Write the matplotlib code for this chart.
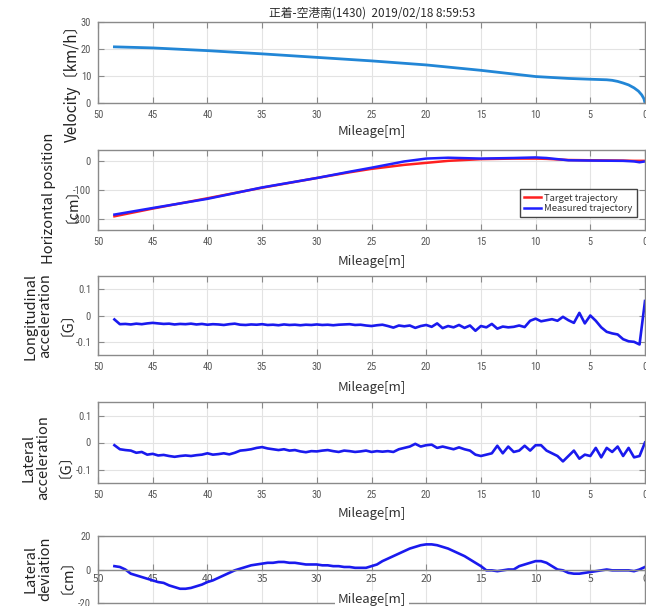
import numpy as np
import matplotlib
matplotlib.use("Agg")
import matplotlib.pyplot as plt
from matplotlib import font_manager

plt.rcParams['font.family'] = ['Noto Sans CJK JP', 'DejaVu Sans']
plt.rcParams['axes.unicode_minus'] = False

title = "正着-空港南(1430)  2019/02/18 8:59:53"

# mileage samples for the logged channels (m to stop position)
mileage = np.arange(48.5, -0.01, -0.5)

# velocity profile, sparse points read along the run
vel_x = [48.5, 45, 40, 35, 30, 25, 20, 15, 10, 7, 5, 3.5, 3, 2.5, 2, 1.5, 1, 0.6, 0.3, 0.1, 0]
vel = [20.8, 20.4, 19.4, 18.2, 16.9, 15.6, 14.1, 12.1, 9.8, 9.1, 8.8, 8.6, 8.4, 8.0, 7.4, 6.7, 5.6, 4.4, 3.0, 1.6, 0.0]

# horizontal position (cm)
pos_x = [48.5, 45, 40, 35, 30, 27, 25, 22, 20, 18, 15, 12, 10, 9, 8, 7, 5, 2, 1, 0.5, 0]
target = [-192, -165, -129, -92, -58, -38, -26, -12, -5, 2, 8, 10, 10, 9, 7, 5, 4, 3, 2, 2, 2]
measured = [-186, -163, -131, -91, -58, -36, -22, 0, 10, 13, 10, 12, 14, 12, 8, 4, 3, 2, 0, -3, 0]

# longitudinal acceleration (G)
long_acc = [
    -0.015, -0.033, -0.032, -0.034, -0.031, -0.033, -0.030, -0.028, -0.030, -0.032,
    -0.031, -0.034, -0.032, -0.033, -0.031, -0.034, -0.032, -0.035, -0.033, -0.034,
    -0.036, -0.033, -0.031, -0.035, -0.036, -0.034, -0.035, -0.033, -0.036, -0.035,
    -0.037, -0.034, -0.036, -0.035, -0.037, -0.035, -0.036, -0.034, -0.036, -0.035,
    -0.037, -0.035, -0.034, -0.033, -0.036, -0.035, -0.038, -0.040, -0.037, -0.035,
    -0.040, -0.046, -0.038, -0.041, -0.038, -0.047, -0.040, -0.036, -0.043, -0.030,
    -0.048, -0.040, -0.045, -0.036, -0.047, -0.038, -0.058, -0.040, -0.045, -0.032,
    -0.050, -0.042, -0.045, -0.043, -0.038, -0.044, -0.020, -0.012, -0.022, -0.018,
    -0.014, -0.020, -0.005, -0.018, -0.028, 0.010, -0.030, 0.000, -0.020, -0.045,
    -0.062, -0.068, -0.072, -0.090, -0.098, -0.100, -0.110, 0.055,
]

# lateral acceleration (G)
lat_acc = [
    -0.010, -0.025, -0.028, -0.030, -0.038, -0.035, -0.045, -0.042, -0.048, -0.046,
    -0.050, -0.053, -0.050, -0.048, -0.050, -0.047, -0.045, -0.040, -0.045, -0.043,
    -0.040, -0.044, -0.038, -0.030, -0.028, -0.025, -0.020, -0.017, -0.022, -0.025,
    -0.028, -0.025, -0.030, -0.028, -0.033, -0.036, -0.032, -0.033, -0.030, -0.028,
    -0.032, -0.035, -0.030, -0.032, -0.035, -0.033, -0.030, -0.035, -0.032, -0.034,
    -0.032, -0.035, -0.025, -0.020, -0.015, -0.005, -0.015, -0.010, -0.008, -0.020,
    -0.015, -0.020, -0.025, -0.018, -0.025, -0.030, -0.045, -0.050, -0.045, -0.040,
    -0.012, -0.040, -0.015, -0.035, -0.030, -0.012, -0.030, -0.010, -0.010, -0.030,
    -0.040, -0.050, -0.070, -0.050, -0.030, -0.060, -0.045, -0.050, -0.020, -0.055,
    -0.020, -0.035, -0.015, -0.050, -0.020, -0.055, -0.050, 0.000,
]

# lateral deviation (cm)
lat_dev = [
    2.0, 1.5, 0.0, -2.5, -3.5, -4.5, -5.5, -6.5, -7.5, -8.0,
    -9.5, -10.5, -11.5, -11.5, -11.0, -10.0, -9.0, -7.5, -6.5, -5.0,
    -3.5, -2.0, -0.5, 0.5, 1.5, 2.5, 3.0, 3.5, 4.0, 4.0,
    4.5, 4.5, 4.0, 4.0, 3.5, 3.0, 3.0, 3.0, 2.5, 2.5,
    2.0, 2.0, 1.5, 1.5, 1.0, 1.0, 1.0, 2.0, 3.0, 5.0,
    6.5, 8.0, 9.5, 11.0, 12.5, 13.5, 14.5, 15.0, 15.0, 14.5,
    13.5, 12.5, 11.0, 9.5, 8.0, 6.0, 4.0, 2.0, -0.5, -0.5,
    -1.0, -0.5, 0.0, 0.0, 2.0, 3.0, 4.0, 5.0, 5.0, 4.0,
    2.0, 0.0, -0.5, -2.0, -2.5, -2.5, -2.0, -1.5, -1.0, -0.5,
    0.0, -0.5, -0.5, -0.5, -0.5, -1.0, 0.0, 1.5,
]

W, H = 646, 606
fig = plt.figure(figsize=(W / 100, H / 100), dpi=100)

tick_font = 'DejaVu Sans'
for name in ['Liberation Sans Narrow', 'Roboto Condensed']:
    try:
        font_manager.findfont(name, fallback_to_default=False)
        tick_font = name
        break
    except Exception:
        pass

spine_c = '#8a8a8a'
grid_c = '#e3e3e3'
tick_c = '#555555'


def make_axes(top, bottom, ylim, yticks, yticklabels=None):
    ax = fig.add_axes([98 / W, 1 - bottom / H, 547 / W, (bottom - top) / H])
    ax.set_xlim(50, 0)
    ax.set_ylim(*ylim)
    ax.set_xticks(range(50, -1, -5))
    ax.set_yticks(yticks)
    if yticklabels:
        ax.set_yticklabels(yticklabels)
    ax.grid(True, color=grid_c, lw=0.8)
    ax.set_axisbelow(True)
    for s in ax.spines.values():
        s.set_color(spine_c)
        s.set_linewidth(1.0)
    ax.tick_params(direction='in', length=4, width=0.8, color=spine_c,
                   top=True, right=True, labelsize=7.5, labelcolor=tick_c, pad=5)
    for lab in ax.get_xticklabels() + ax.get_yticklabels():
        lab.set_family(tick_font)
    return ax


def mileage_label(y):
    fig.text(372 / W, 1 - y / H, "Mileage[m]", ha='center', va='center',
             fontsize=9.5, color='#333333')


# velocity
ax1 = make_axes(22, 103, (0, 30), [0, 10, 20, 30])
ax1.plot(vel_x, vel, color='#2286d6', lw=2.0)
fig.text(372 / W, 1 - 13 / H, title, ha='center', va='center', fontsize=8.5, color='#2a2a2a')
mileage_label(131)
fig.text(72 / W, 1 - 80 / H, "Velocity〔km/h〕", rotation=90, ha='center', va='center',
         fontsize=11, color='#222222')

# horizontal position
ax2 = make_axes(150, 230, (-240, 40), [-200, -100, 0])
ax2.plot(pos_x, target, color='#ff2020', lw=1.8, label='Target trajectory')
ax2.plot(pos_x, measured, color='#2020ff', lw=1.8, label='Measured trajectory')
leg = ax2.legend(loc='lower right', bbox_to_anchor=(0.985, 0.16), borderaxespad=0,
                 fontsize=6.8, fancybox=False, edgecolor='#444444', handlelength=1.8,
                 handletextpad=0.3, borderpad=0.45, labelspacing=0.15, framealpha=1)
for t in leg.get_texts():
    t.set_color('#333333')
mileage_label(262)
fig.text(57 / W, 1 - 198 / H, "Horizontal position\n〔cm〕", rotation=90, ha='center',
         va='center', multialignment='center', fontsize=10.5, color='#222222', linespacing=1.1)

# longitudinal acceleration
ax3 = make_axes(276, 355, (-0.15, 0.15), [-0.1, 0, 0.1], ['-0.1', '0', '0.1'])
ax3.plot(mileage, long_acc, color='#1a1aee', lw=1.9)
mileage_label(388)
fig.text(45 / W, 1 - 316 / H, "Longitudinal\nacceleration\n〔G〕", rotation=90, ha='center',
         va='center', multialignment='center', fontsize=10.5, color='#222222', linespacing=1.05)

# lateral acceleration
ax4 = make_axes(402, 483, (-0.15, 0.15), [-0.1, 0, 0.1], ['-0.1', '0', '0.1'])
ax4.plot(mileage, lat_acc, color='#1a1aee', lw=1.9)
mileage_label(514)
fig.text(43 / W, 1 - 458 / H, "Lateral\nacceleration\n〔G〕", rotation=90, ha='center',
         va='center', multialignment='center', fontsize=10.5, color='#222222', linespacing=1.05)

# lateral deviation, x axis through the origin
ax5 = make_axes(536, 603, (-20, 20), [-20, 0, 20])
ax5.spines['bottom'].set_position(('data', 0))
ax5.tick_params(axis='x', top=False, pad=3)
ax5.axhline(-20, color=spine_c, lw=1.0, clip_on=False)
ax5.plot(mileage, lat_dev, color='#1a1aee', lw=1.9)
fig.text(372 / W, 1 - 600 / H, "Mileage[m]", ha='center', va='center', fontsize=9.5,
         color='#333333', bbox=dict(facecolor='white', edgecolor='none', pad=2))
fig.text(45 / W, 1 - 569 / H, "Lateral\ndeviation\n〔cm〕", rotation=90, ha='center',
         va='center', multialignment='center', fontsize=10.5, color='#222222', linespacing=1.05)

fig.savefig("out.png", dpi=100)
